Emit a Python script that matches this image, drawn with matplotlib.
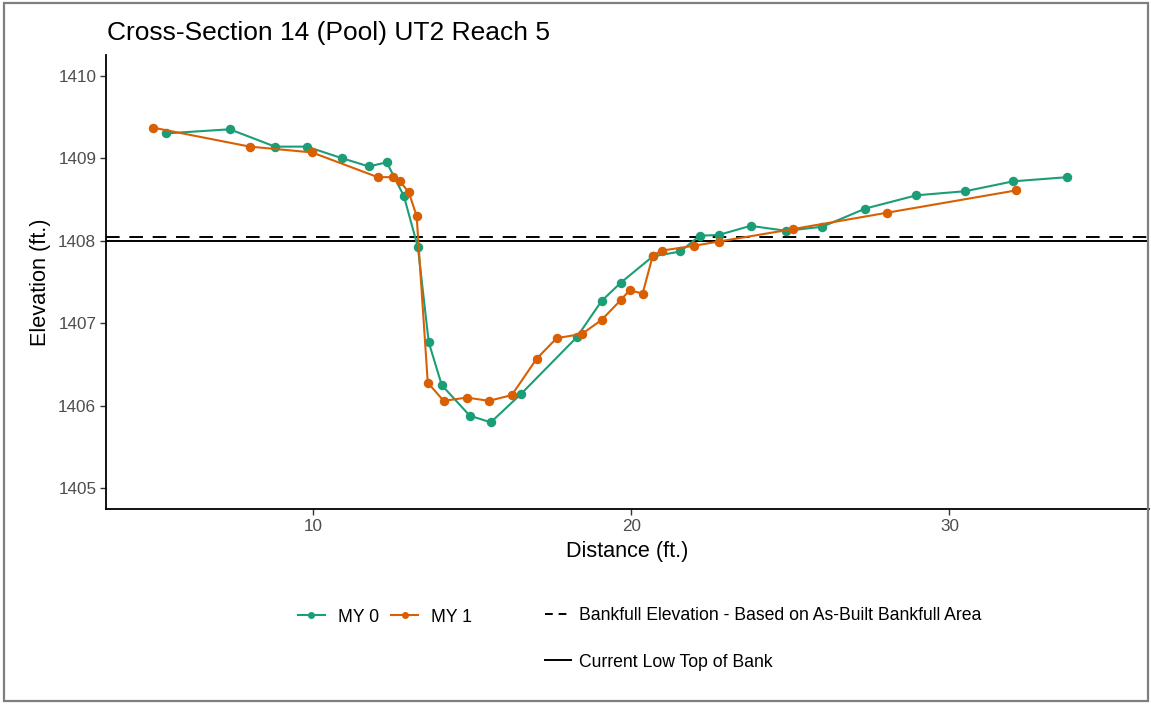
import matplotlib
matplotlib.use("Agg")
import matplotlib.pyplot as plt
from matplotlib.lines import Line2D
from matplotlib.patches import Rectangle

plt.rcParams['font.family'] = ['Liberation Sans', 'DejaVu Sans']

# ---- data ----
my0_dist = [5.38, 7.39, 8.81, 9.81, 10.91, 11.76, 12.32, 12.86, 13.30, 13.64, 14.05,
            14.93, 15.59, 16.53, 18.29, 19.07, 19.67, 20.68, 21.55, 22.15, 22.75,
            23.75, 24.88, 26.01, 27.36, 28.96, 30.50, 32.01, 33.70]
my0_elev = [1409.30, 1409.35, 1409.14, 1409.14, 1409.00, 1408.90, 1408.95, 1408.54,
            1407.92, 1406.77, 1406.25, 1405.88, 1405.80, 1406.14, 1406.83, 1407.27,
            1407.49, 1407.81, 1407.87, 1408.06, 1408.07, 1408.18, 1408.12, 1408.17,
            1408.39, 1408.55, 1408.60, 1408.72, 1408.77]

my1_dist = [4.98, 8.02, 9.97, 12.04, 12.51, 12.73, 13.01, 13.26, 13.61, 14.11, 14.84,
            15.53, 16.25, 17.03, 17.66, 18.45, 19.07, 19.67, 19.95, 20.36, 20.68,
            20.96, 21.99, 22.75, 25.07, 28.05, 32.10]
my1_elev = [1409.37, 1409.14, 1409.07, 1408.77, 1408.77, 1408.72, 1408.59, 1408.30,
            1406.28, 1406.06, 1406.10, 1406.06, 1406.13, 1406.57, 1406.82, 1406.87,
            1407.04, 1407.28, 1407.40, 1407.36, 1407.82, 1407.88, 1407.94, 1407.99,
            1408.14, 1408.34, 1408.61]

bankfull_elev = 1408.04
low_top_of_bank = 1408.0

series_labels = ["MY 0", "MY 1"]
series_colors = ["#1B9E77", "#D95F02"]
line_labels = ["Bankfull Elevation - Based on As-Built Bankfull Area",
               "Current Low Top of Bank"]
title = "Cross-Section 14 (Pool) UT2 Reach 5"
x_ticks = [10, 20, 30]
y_ticks = [1405, 1406, 1407, 1408, 1409, 1410]

W, H = 1151, 704
fig = plt.figure(figsize=(W / 100, H / 100), dpi=100)
fig.patch.set_facecolor("white")

# outer frame
fig.add_artist(Rectangle((4 / W, 3 / H), (W - 7) / W, (H - 6) / H, transform=fig.transFigure,
                         fill=False, edgecolor="#7f7f7f", linewidth=1.6))

ax = fig.add_axes([106 / W, (H - 509) / H, (1149 - 106) / W, (509 - 55) / H])
ax.plot(my0_dist, my0_elev, color=series_colors[0], lw=1.5, marker="o", ms=5.8, zorder=3)
ax.plot(my1_dist, my1_elev, color=series_colors[1], lw=1.5, marker="o", ms=5.8, zorder=4)
ax.axhline(bankfull_elev, color="black", lw=1.4, ls=(0, (7, 5)), zorder=2)
ax.axhline(low_top_of_bank, color="black", lw=1.4, zorder=2)

ax.set_xlim(3.5, 36.27)
ax.set_ylim(1404.75, 1410.25)
ax.set_xticks(x_ticks)
ax.set_yticks(y_ticks)
for s in ["top", "right"]:
    ax.spines[s].set_visible(False)
for s in ["left", "bottom"]:
    ax.spines[s].set_linewidth(1.3)
ax.tick_params(axis="both", labelsize=12.3, labelcolor="#4d4d4d", color="#333333",
               length=4, width=1.0, pad=3)
ax.set_xlabel("Distance (ft.)", fontsize=15.6, labelpad=5)
ax.set_ylabel("Elevation (ft.)", fontsize=15.6, labelpad=5)

fig.text(107 / W, 1 - 33 / H, title, fontsize=19, ha="left", va="center")

# legends
fs_leg = 12.7
h_series = [Line2D([], [], color=c, lw=1.5, marker="o", ms=4) for c in series_colors]
leg1 = fig.legend(h_series, series_labels, loc="center left",
                  bbox_to_anchor=(298 / W, 1 - 617 / H), ncol=2, frameon=False,
                  fontsize=fs_leg, handlelength=1.53, handletextpad=0.74, columnspacing=0.68,
                  borderaxespad=0, borderpad=0)
h_lines = [Line2D([], [], color="black", lw=1.4, ls=(0, (4, 3))),
           Line2D([], [], color="black", lw=1.4)]
leg2 = fig.legend(h_lines, line_labels, loc="upper left",
                  bbox_to_anchor=(545 / W, 1 - 607 / H), ncol=1, frameon=False,
                  fontsize=fs_leg, handlelength=1.45, handletextpad=0.45, labelspacing=1.68,
                  borderaxespad=0, borderpad=0)

fig.savefig("out.png", dpi=100)
